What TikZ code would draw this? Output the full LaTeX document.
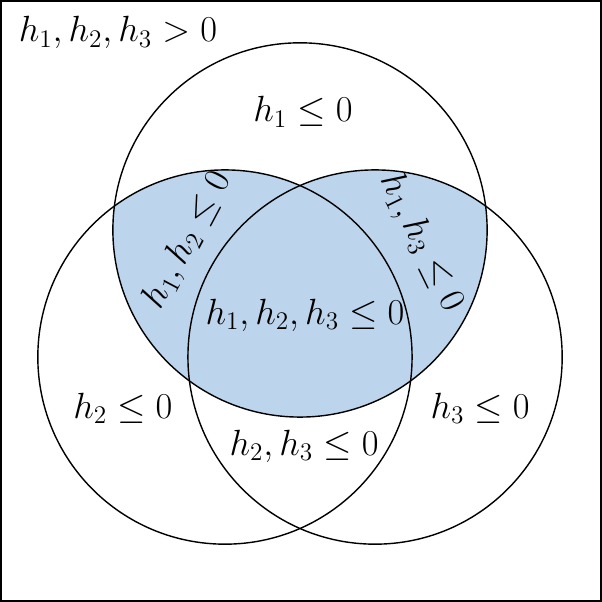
\documentclass[tikz,border=0pt]{standalone}
\usepackage{amsmath,amssymb}
\usepackage{xcolor}
\definecolor{regionblue}{RGB}{189,213,236}
\begin{document}
\begin{tikzpicture}[x=0.02cm, y=-0.02cm, font=\fontsize{19.5}{24}\selectfont]
    \tikzset{setlabel/.style={inner sep=0pt}}
    % frame
    \draw[line width=0.9pt] (1,1) rectangle (601,601);
    % shaded part of the top set
    \begin{scope}
      \clip (300,230) circle (187);
      \fill[regionblue] (225,357) circle (187);
      \fill[regionblue] (375,357) circle (187);
    \end{scope}
    \draw[line width=0.8pt] (300,230) circle (187);
    \draw[line width=0.8pt] (225,357) circle (187);
    \draw[line width=0.8pt] (375,357) circle (187);

  \node[setlabel] (outside) at (118,33) {$h_1, h_2, h_3 > 0$};
  \node[setlabel] (hone) at (303,112) {$h_1 \leq 0$};
  \node[setlabel] (htwo) at (123,408) {$h_2 \leq 0$};
  \node[setlabel] (hthree) at (480,408) {$h_3 \leq 0$};
  \node[setlabel] (honetwo) at (188,240) [rotate=62] {$h_1, h_2 \leq 0$};
  \node[setlabel] (honethree) at (421,243) [rotate=-64] {$h_1, h_3 \leq 0$};
  \node[setlabel] (hall) at (305,315) {$h_1, h_2, h_3 \leq 0$};
  \node[setlabel] (htwothree) at (304,446) {$h_2, h_3 \leq 0$};
  \end{tikzpicture}
\end{document}
